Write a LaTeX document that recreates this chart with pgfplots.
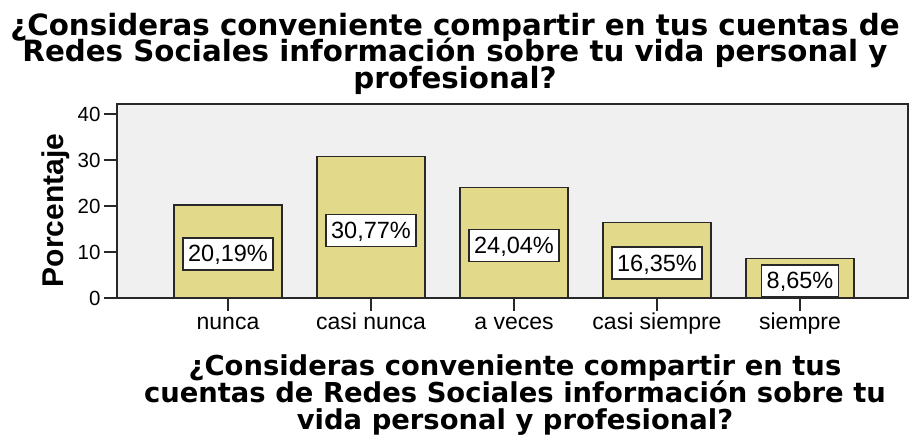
\documentclass[border=0pt]{standalone}
\usepackage{fontspec}
\setmainfont{Liberation Sans}
\newfontfamily\titlefont{DejaVu Sans}
\usepackage{pgfplots}
\pgfplotsset{compat=1.18}
\definecolor{barfill}{RGB}{226,218,138}
\definecolor{plotbg}{RGB}{240,240,240}
\definecolor{frame}{RGB}{40,40,40}
\begin{document}
\begin{tikzpicture}[x=1pt,y=1pt]
\path[use as bounding box] (0,0) rectangle (909,-434);
% top title, centred on the picture
\begin{scope}[every node/.style={anchor=base,inner sep=0pt,font=\titlefont\bfseries\fontsize{29.3}{30}\selectfont}]
\node at (455,-35) {¿Consideras conveniente compartir en tus cuentas de};
\node at (455,-61.5) {Redes Sociales información sobre tu vida personal y};
\node at (455,-88) {profesional?};
\end{scope}
\begin{axis}[
  at={(117pt,-104pt)}, anchor=north west,
  scale only axis, width=791pt, height=194pt,
  xmin=-0.776, xmax=4.755, ymin=0, ymax=42.17,
  axis background/.style={fill=plotbg},
  axis line style={line width=1.4pt,frame},
  xtick={0,1,2,3,4},
  xticklabels={nunca,casi nunca,a veces,casi siempre,siempre},
  ytick={0,10,20,30,40},
  tick pos=left, tick align=outside, major tick length=13pt,
  tick style={line width=1.4pt,frame},
  xticklabel style={font=\fontsize{23}{26}\selectfont, text height=15pt, text depth=5pt},
  yticklabel style={font=\fontsize{20.5}{24}\selectfont},
  /pgf/number format/assume math mode=true,
  clip=false,
]
\addplot[ybar, bar width=108pt, fill=barfill, draw=frame, line width=1.4pt]
  coordinates {(0,20.19) (1,30.77) (2,24.04) (3,16.35) (4,8.65)};
\addplot[draw=none, mark=none, point meta=explicit symbolic, nodes near coords,
  every node near coord/.style={anchor=center, fill=white, draw=frame, line width=1.5pt,
    inner xsep=5pt, inner ysep=8pt, text height=16pt, text depth=0pt,
    font=\fontsize{23.5}{26}\selectfont}]
  coordinates {(0,9.6) [20,19\%] (1,14.7) [30,77\%] (2,11.4) [24,04\%] (3,7.6) [16,35\%] (4,3.7) [8,65\%]};
\end{axis}
\node[rotate=90, anchor=base, inner sep=0pt, font=\bfseries\fontsize{30}{32}\selectfont] at (63,-210.5) {Porcentaje};
% axis title below
\begin{scope}[every node/.style={anchor=base,inner sep=0pt,font=\titlefont\bfseries\fontsize{27.4}{28}\selectfont}]
\node at (515,-375) {¿Consideras conveniente compartir en tus};
\node at (515,-402) {cuentas de Redes Sociales información sobre tu};
\node at (515,-429) {vida personal y profesional?};
\end{scope}
\end{tikzpicture}
\end{document}
